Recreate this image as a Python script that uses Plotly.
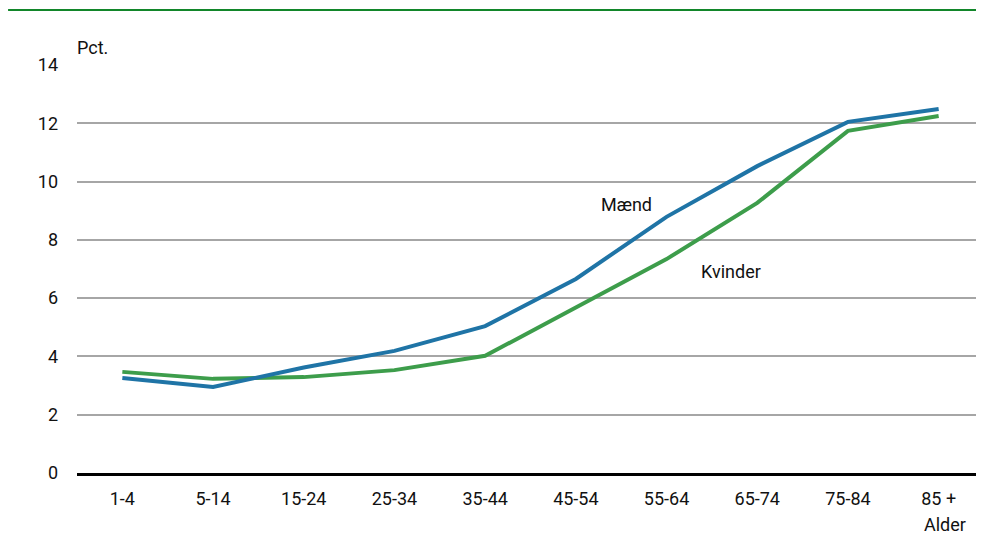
import plotly.graph_objects as go

categories = ["1-4", "5-14", "15-24", "25-34", "35-44", "45-54", "55-64", "65-74", "75-84", "85 +"]
maend = [3.26, 2.95, 3.62, 4.19, 5.04, 6.66, 8.79, 10.53, 12.05, 12.49]
kvinder = [3.47, 3.23, 3.29, 3.53, 4.02, 5.68, 7.34, 9.27, 11.74, 12.25]
y_ticks = [0, 2, 4, 6, 8, 10, 12, 14]

FONT = "Roboto, Liberation Sans, sans-serif"
FS = 18

fig = go.Figure()
fig.add_trace(go.Scatter(x=categories, y=kvinder, mode="lines", name="Kvinder",
                         line=dict(color="#3d9d4b", width=4)))
fig.add_trace(go.Scatter(x=categories, y=maend, mode="lines", name="Mænd",
                         line=dict(color="#1f74a6", width=4)))

fig.update_layout(
    width=976, height=529,
    margin=dict(l=69, r=0, t=57, b=64),
    plot_bgcolor="white", paper_bgcolor="white",
    showlegend=False,
    font=dict(family=FONT, size=FS, color="#111111"),
    xaxis=dict(type="category", range=[-0.5, 9.5], showgrid=False,
               showline=True, linecolor="black", linewidth=3, zeroline=False,
               ticks="", tickfont=dict(size=FS), ticklabelstandoff=7),
    yaxis=dict(range=[0, 14], tickvals=y_ticks, showgrid=True, gridcolor="#a6a6a6",
               gridwidth=1.5, zeroline=False, showline=False, ticks="",
               tickfont=dict(size=FS), ticklabelstandoff=18),
    shapes=[
        dict(type="line", xref="paper", yref="paper", x0=-0.076, x1=1, y0=1.135, y1=1.135,
             line=dict(color="#12862a", width=2)),
    ],
    annotations=[
        dict(text="Pct.", xref="paper", yref="paper", x=-0.002, y=1.042, xanchor="left",
             yanchor="middle", showarrow=False, font=dict(size=FS)),
        dict(text="Alder", xref="paper", yref="paper", x=0.957, y=-0.125, xanchor="center",
             yanchor="middle", showarrow=False, font=dict(size=FS)),
        dict(text="Mænd", xref="x", yref="y", x=5.56, y=9.23, xanchor="center",
             yanchor="middle", showarrow=False, font=dict(size=FS)),
        dict(text="Kvinder", xref="x", yref="y", x=6.71, y=6.93, xanchor="center",
             yanchor="middle", showarrow=False, font=dict(size=FS)),
    ],
)

fig.write_html("out.html")
